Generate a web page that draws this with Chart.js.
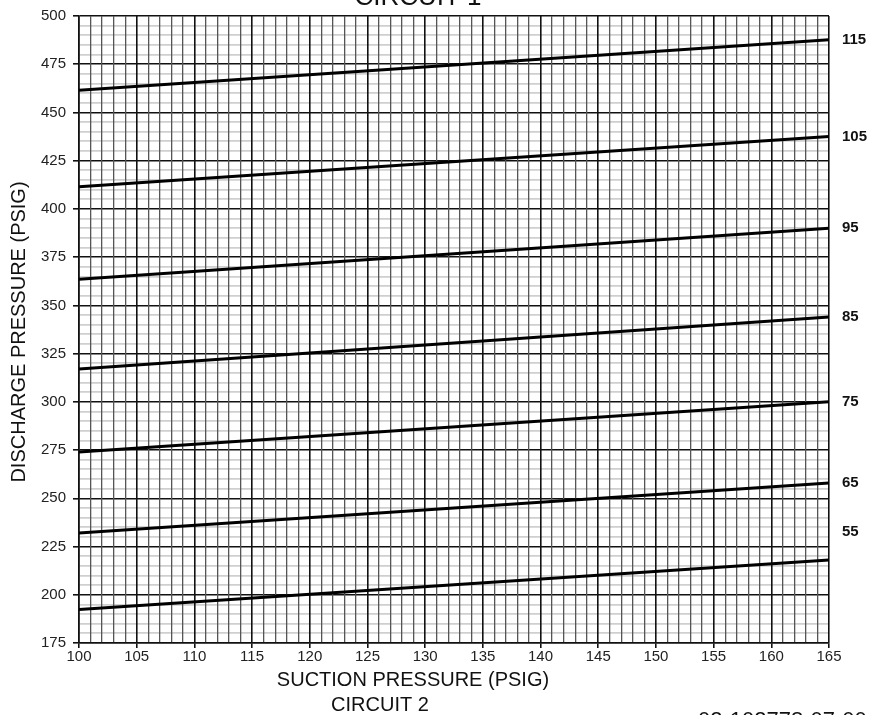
<!DOCTYPE html>
<html>
<head>
<meta charset="utf-8">
<script src="https://cdn.jsdelivr.net/npm/chart.js@4"></script>
<style>
  html, body { margin: 0; padding: 0; background: #fff; }
  #wrap { width: 872px; height: 715px; }
</style>
</head>
<body>
<div id="wrap"><canvas id="myChart" width="872" height="715"></canvas></div>
<script>
// suction pressure range (x) and discharge pressure range (y)
var suction = [100, 165];
var ambient = ['115', '105', '95', '85', '75', '65', '55'];
var dischargeAt100 = [461.5, 411.5, 363.5, 317, 274, 232, 192.3];
var dischargeAt165 = [487.7, 437.5, 390, 344, 300, 258, 218];
// where the right-hand labels sit (psig)
var labelAt = [487.7, 437.5, 390, 344, 300, 258, 232.5];

var datasets = ambient.map(function(name, i) {
    return {
        label: name,
        data: [
            { x: suction[0], y: dischargeAt100[i] },
            { x: suction[1], y: dischargeAt165[i] }
        ],
        borderColor: '#000',
        borderWidth: 3,
        pointRadius: 0,
        showLine: true
    };
});

var FONT = '"Liberation Sans", Arial, sans-serif';

var textPlugin = {
    id: 'texts',
    afterDraw: function(chart) {
        var c = chart.ctx;
        var y = chart.scales.y;
        c.save();
        c.fillStyle = '#111';
        c.textBaseline = 'middle';
        c.textAlign = 'left';
        c.font = 'bold 15px ' + FONT;
        ambient.forEach(function(name, i) {
            c.fillText(name, 842, y.getPixelForValue(labelAt[i]));
        });

        c.textAlign = 'center';
        c.textBaseline = 'alphabetic';
        c.font = '26px ' + FONT;
        c.fillText('CIRCUIT 1', 418, 5);
        c.font = '20px ' + FONT;
        c.fillText('CIRCUIT 2', 380, 711);
        c.fillText('SUCTION PRESSURE (PSIG)', 413, 686);
        c.textAlign = 'left';
        c.font = '22px ' + FONT;
        c.fillText('02-102778-07-00', 698, 727);

        c.translate(25, 332);
        c.rotate(-Math.PI / 2);
        c.textAlign = 'center';
        c.font = '20px ' + FONT;
        c.fillText('DISCHARGE PRESSURE (PSIG)', 0, 0);
        c.restore();
    }
};

const ctx = document.getElementById('myChart');

new Chart(ctx, {
    type: 'scatter',
    data: { datasets: datasets },
    options: {
        responsive: false,
        animation: false,
        layout: { padding: { left: 0, top: 14, right: 43, bottom: 0 } },
        plugins: { legend: { display: false }, tooltip: { enabled: false } },
        scales: {
            x: {
                type: 'linear',
                min: 100,
                max: 165,
                afterFit: function(s) { s.height = 72; },
                afterBuildTicks: function(s) {
                    var t = [];
                    for (var v = 100; v <= 165; v++) t.push({ value: v });
                    s.ticks = t;
                },
                ticks: {
                    autoSkip: false,
                    maxRotation: 0,
                    padding: 0,
                    color: '#222',
                    font: { family: FONT, size: 15 },
                    callback: function(v) { return v % 5 === 0 ? v : ''; }
                },
                grid: {
                    z: -1,
                    color: function(c) { return c.tick.value % 5 === 0 ? '#111' : '#555'; },
                    lineWidth: function(c) { return c.tick.value % 5 === 0 ? 1.6 : 1.3; },
                    tickColor: function(c) { return c.tick.value % 5 === 0 ? '#111' : 'rgba(0,0,0,0)'; },
                    tickLength: 5
                },
                border: { color: '#111', width: 1.6 }
            },
            y: {
                min: 175,
                max: 500,
                afterFit: function(s) { s.width = 79; },
                afterBuildTicks: function(s) {
                    var t = [];
                    for (var v = 175; v <= 500; v += 5) t.push({ value: v });
                    s.ticks = t;
                },
                ticks: {
                    autoSkip: false,
                    padding: 7,
                    color: '#222',
                    font: { family: FONT, size: 15 },
                    callback: function(v) { return v % 25 === 0 ? v : ''; }
                },
                grid: {
                    z: -2,
                    color: function(c) { return c.tick.value % 25 === 0 ? '#111' : '#cfcfcf'; },
                    lineWidth: function(c) { return c.tick.value % 25 === 0 ? 1.6 : 1.8; },
                    tickColor: function(c) { return c.tick.value % 25 === 0 ? '#111' : 'rgba(0,0,0,0)'; },
                    tickLength: 6
                },
                border: { color: '#111', width: 1.6 }
            }
        }
    },
    plugins: [textPlugin]
});
</script>
</body>
</html>
